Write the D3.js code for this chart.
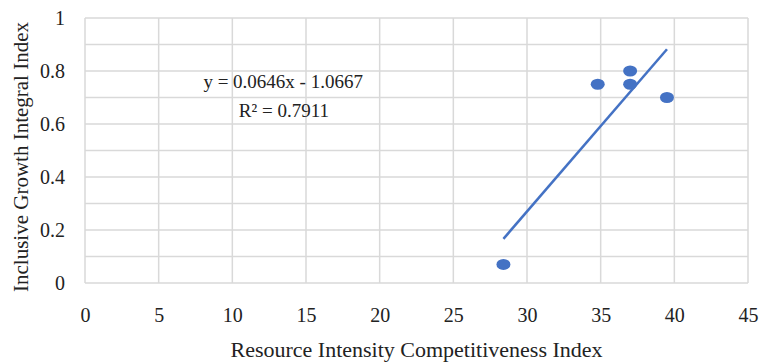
<!DOCTYPE html>
<html>
<head>
<meta charset="utf-8">
<script src="https://cdn.jsdelivr.net/npm/d3@7"></script>
<style>
  body { margin: 0; background: #fff; }
  svg text { font-family: "Liberation Serif", "DejaVu Serif", serif; fill: #222; }
</style>
</head>
<body>
<div id="chart"></div>
<script>
// data
const xValues = [28.4, 34.8, 37.0, 37.0, 39.5];
const yValues = [0.07, 0.75, 0.80, 0.75, 0.70];
const xTicks = [0, 5, 10, 15, 20, 25, 30, 35, 40, 45];
const yTicks = [0, 0.2, 0.4, 0.6, 0.8, 1];
const yGrid = [0, 0.1, 0.2, 0.3, 0.4, 0.5, 0.6, 0.7, 0.8, 0.9, 1];
const equationText = ["y = 0.0646x - 1.0667", "R\u00b2 = 0.7911"];

const points = xValues.map((x, i) => ({ x: x, y: yValues[i] }));

// svg setup
const width = 763, height = 362;
const margin = { top: 18, right: 15, bottom: 79, left: 85 };
const innerW = width - margin.left - margin.right;
const innerH = height - margin.top - margin.bottom;

const svg = d3.select("#chart")
    .append("svg")
    .attr("width", width)
    .attr("height", height)
    .append("g")
    .attr("transform", `translate(${margin.left},${margin.top})`);

// scales
const x = d3.scaleLinear().domain([0, 45]).range([0, innerW]);
const y = d3.scaleLinear().domain([0, 1]).range([innerH, 0]);

// gridlines
svg.append("g")
    .selectAll("line")
    .data(xTicks)
    .enter()
    .append("line")
    .attr("x1", d => x(d)).attr("x2", d => x(d))
    .attr("y1", 0).attr("y2", innerH)
    .attr("stroke", "#d9d9d9")
    .attr("stroke-width", 1.5);
svg.append("g")
    .selectAll("line")
    .data(yGrid)
    .enter()
    .append("line")
    .attr("x1", 0).attr("x2", innerW)
    .attr("y1", d => y(d)).attr("y2", d => y(d))
    .attr("stroke", "#d9d9d9")
    .attr("stroke-width", 1.5);

// axes (tick labels only)
const gx = svg.append("g")
    .attr("transform", `translate(0,${innerH})`)
    .call(d3.axisBottom(x).tickValues(xTicks).tickSize(0).tickPadding(25));
gx.select(".domain").remove();
gx.selectAll("text").style("font-size", "20px").style("font-family", "Liberation Serif, serif").attr("fill", "#222");

const gy = svg.append("g")
    .call(d3.axisLeft(y).tickValues(yTicks).tickSize(0).tickPadding(20).tickFormat(d3.format("~g")));
gy.select(".domain").remove();
gy.selectAll("text").style("font-size", "20px").style("font-family", "Liberation Serif, serif").attr("fill", "#222");

// axis labels
svg.append("text")
    .attr("x", innerW / 2)
    .attr("y", innerH + 74)
    .attr("text-anchor", "middle")
    .style("font-size", "22px")
    .text("Resource Intensity Competitiveness Index");
svg.append("text")
    .attr("transform", "rotate(-90)")
    .attr("x", -139)
    .attr("y", -57)
    .attr("text-anchor", "middle")
    .style("font-size", "21px")
    .text("Inclusive Growth Integral Index");

// least squares trendline from the points
const mx = d3.mean(points, d => d.x), my = d3.mean(points, d => d.y);
const slope = d3.sum(points, d => (d.x - mx) * (d.y - my)) / d3.sum(points, d => (d.x - mx) ** 2);
const intercept = my - slope * mx;
const xExt = d3.extent(points, d => d.x);
svg.append("line")
    .attr("x1", x(xExt[0])).attr("y1", y(slope * xExt[0] + intercept))
    .attr("x2", x(xExt[1])).attr("y2", y(slope * xExt[1] + intercept))
    .attr("stroke", "#4472c4")
    .attr("stroke-width", 2.5);

// markers
svg.selectAll("ellipse")
    .data(points)
    .enter()
    .append("ellipse")
    .attr("cx", d => x(d.x))
    .attr("cy", d => y(d.y))
    .attr("rx", 7)
    .attr("ry", 5.5)
    .attr("fill", "#4472c4");

// equation label
svg.append("text")
    .attr("x", x(13.45))
    .attr("y", y(0.736))
    .attr("text-anchor", "middle")
    .style("font-size", "19px")
    .text(equationText[0]);
svg.append("text")
    .attr("x", x(13.5))
    .attr("y", y(0.626))
    .attr("text-anchor", "middle")
    .style("font-size", "19px")
    .text(equationText[1]);
</script>
</body>
</html>
